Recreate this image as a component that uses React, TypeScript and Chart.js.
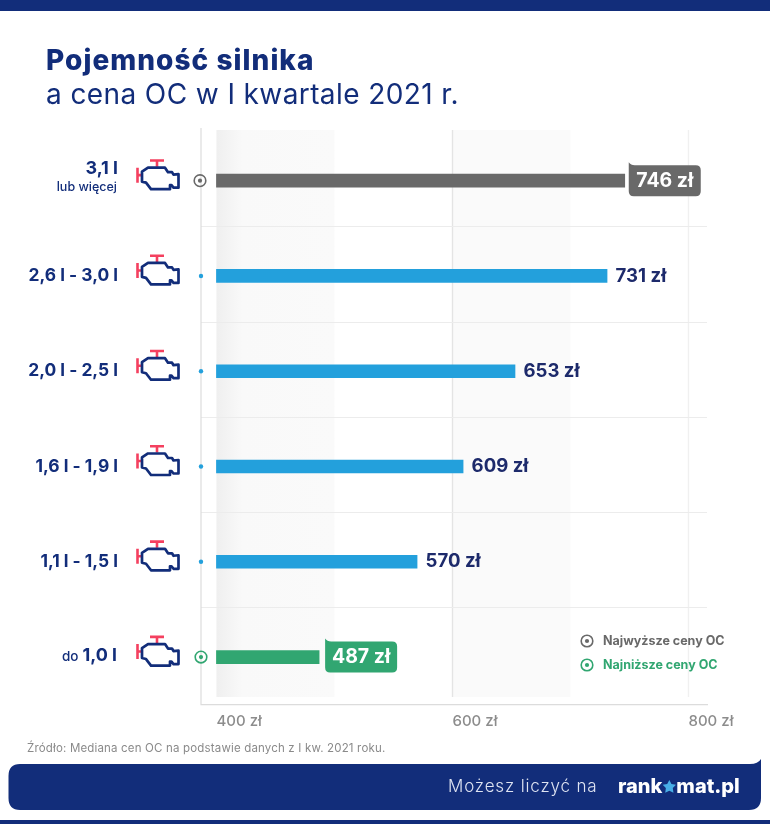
import React, { useEffect, useRef } from "react";
import { Chart, registerables } from "chart.js";

Chart.register(...registerables);

const categories = ["3,1 l lub więcej", "2,6 l - 3,0 l", "2,0 l - 2,5 l", "1,6 l - 1,9 l", "1,1 l - 1,5 l", "do 1,0 l"];
const prices = [746, 731, 653, 609, 570, 487];
const tickValues = [400, 600, 800];
const NAVY = "#122d7a";
const GRAY = "#696969";
const BLUE = "#23a0dc";
const GREEN = "#31a671";
const INK = "#1d2a6b";
const barColors = [GRAY, BLUE, BLUE, BLUE, BLUE, GREEN];
const FONT = "Inter, sans-serif";

function engine(c: CanvasRenderingContext2D, cy: number) {
  const o = cy - 181;
  c.save();
  c.translate(0, o);
  c.lineJoin = "round";
  c.strokeStyle = "#f4405f";
  c.lineWidth = 2.6;
  c.beginPath();
  c.moveTo(150, 160.8); c.lineTo(164, 160.8);
  c.moveTo(157, 161); c.lineTo(157, 167);
  c.moveTo(137.5, 168); c.lineTo(137.5, 183);
  c.moveTo(137.5, 175.5); c.lineTo(141, 175.5);
  c.stroke();
  c.strokeStyle = NAVY;
  c.lineWidth = 2.7;
  c.beginPath();
  c.moveTo(148, 168); c.lineTo(165, 168); c.lineTo(168, 172.5); c.lineTo(172, 172.5);
  c.lineTo(173.5, 175); c.lineTo(178.5, 174.5); c.lineTo(178.5, 188); c.lineTo(173.5, 188);
  c.lineTo(171.5, 185.5); c.lineTo(170, 185.5); c.lineTo(170, 189.5); c.lineTo(151, 189.5);
  c.lineTo(146, 183); c.lineTo(142, 182); c.lineTo(142, 172); c.closePath();
  c.stroke();
  c.restore();
}

function target(c: CanvasRenderingContext2D, x: number, y: number, col: string) {
  c.strokeStyle = col;
  c.fillStyle = col;
  c.lineWidth = 1.6;
  c.beginPath(); c.arc(x, y, 5.8, 0, Math.PI * 2); c.stroke();
  c.beginPath(); c.arc(x, y, 2.1, 0, Math.PI * 2); c.fill();
}

function callout(c: CanvasRenderingContext2D, x: number, cy: number, w: number, col: string) {
  const t = cy - 15.5, b = cy + 15.5, r = 5;
  c.fillStyle = col;
  c.beginPath();
  c.moveTo(x, t - 3);
  c.quadraticCurveTo(x + 2, t, x + 6, t);
  c.lineTo(x + w - r, t);
  c.quadraticCurveTo(x + w, t, x + w, t + r);
  c.lineTo(x + w, b - r);
  c.quadraticCurveTo(x + w, b, x + w - r, b);
  c.lineTo(x + r, b);
  c.quadraticCurveTo(x, b, x, b - r);
  c.closePath();
  c.fill();
}

function star(c: CanvasRenderingContext2D, x: number, y: number, R: number) {
  c.beginPath();
  for (let i = 0; i < 10; i++) {
    const r = i % 2 ? R * 0.52 : R;
    const a = -Math.PI / 2 + (i * Math.PI) / 5;
    c.lineTo(x + r * Math.cos(a), y + r * Math.sin(a));
  }
  c.closePath();
  c.fill();
}

const under = {
  id: "under",
  beforeDatasetsDraw(chart: any) {
    const c = chart.ctx as CanvasRenderingContext2D;
    const xs = chart.scales.x;
    const top = 130, bot = 697;
    const l1 = xs.getPixelForValue(400), r1 = xs.getPixelForValue(500);
    const g = c.createLinearGradient(l1, 0, r1, 0);
    g.addColorStop(0, "#efefef");
    g.addColorStop(0.22, "#f9f9f9");
    g.addColorStop(1, "#fafafa");
    c.fillStyle = g;
    c.fillRect(l1, top, r1 - l1, bot - top);
    const l2 = xs.getPixelForValue(600), r2 = xs.getPixelForValue(700);
    c.fillStyle = "#fafafa";
    c.fillRect(l2, top, r2 - l2, bot - top);
    c.strokeStyle = "#e4e4e4";
    c.lineWidth = 1.4;
    c.beginPath();
    c.moveTo(Math.round(l2) + 0.5, top); c.lineTo(Math.round(l2) + 0.5, bot);
    c.stroke();
    c.strokeStyle = "#f0f0f0";
    const p8 = xs.getPixelForValue(800);
    c.beginPath();
    c.moveTo(p8, top); c.lineTo(p8, bot);
    c.stroke();
    c.strokeStyle = "#ececec";
    c.lineWidth = 1;
    const ys = chart.scales.y;
    for (let i = 0; i < categories.length - 1; i++) {
      const y = Math.round((ys.getPixelForValue(i) + ys.getPixelForValue(i + 1)) / 2) - 1.5;
      c.beginPath();
      c.moveTo(chart.chartArea.left, y); c.lineTo(chart.chartArea.right, y);
      c.stroke();
    }
    c.strokeStyle = "#dcdcdc";
    c.lineWidth = 1.2;
    c.beginPath();
    c.moveTo(chart.chartArea.left, 128); c.lineTo(chart.chartArea.left, chart.chartArea.bottom);
    c.lineTo(chart.chartArea.right + 1, chart.chartArea.bottom);
    c.stroke();
  },
};

const over = {
  id: "over",
  afterDatasetsDraw(chart: any) {
    const c = chart.ctx as CanvasRenderingContext2D & { letterSpacing: string };
    const meta = chart.getDatasetMeta(0);
    const axisX = chart.chartArea.left;
    c.textBaseline = "middle";
    prices.forEach((v, i) => {
      const el = meta.data[i];
      const y = el.y;
      const right = 118;
      c.textAlign = "right";
      c.fillStyle = NAVY;
      if (i === 0) {
        c.font = `700 18px ${FONT}`;
        c.fillText("3,1 l", right, y - 12.5);
        c.font = `500 12.5px ${FONT}`;
        c.fillText("lub więcej", right - 1, y + 6.5);
      } else if (i === prices.length - 1) {
        c.font = `700 18px ${FONT}`;
        c.fillText("1,0 l", right - 1, y - 1);
        const w = c.measureText("1,0 l").width;
        c.font = `500 13.5px ${FONT}`;
        c.fillText("do", right - w - 5, y);
      } else {
        c.font = `700 17.4px ${FONT}`;
        c.fillText(categories[i], right, y);
      }
      engine(c, y);
      if (i === 0) target(c, axisX - 1, y, GRAY);
      else if (i === prices.length - 1) target(c, axisX, y, GREEN);
      else {
        c.fillStyle = BLUE;
        c.beginPath(); c.arc(axisX, y, 2.2, 0, Math.PI * 2); c.fill();
      }
      const label = `${v} zł`;
      c.textAlign = "left";
      if (i === 0 || i === prices.length - 1) {
        const x = el.x + (i === 0 ? 4 : 6);
        callout(c, x, y, 72, barColors[i]);
        c.fillStyle = "#ffffff";
        c.font = `700 19.5px ${FONT}`;
        c.textAlign = "center";
        c.fillText(label, x + 36, y);
      } else {
        c.fillStyle = INK;
        c.font = `700 18.6px ${FONT}`;
        c.fillText(label, el.x + 8.5, y);
      }
    });
    target(c, 587, 641, GRAY);
    target(c, 587, 665, GREEN);
    c.textAlign = "left";
    c.font = `700 12.5px ${FONT}`;
    c.fillStyle = GRAY;
    c.fillText("Najwyższe ceny OC", 603, 641);
    c.fillStyle = GREEN;
    c.fillText("Najniższe ceny OC", 603, 665);
    c.fillStyle = NAVY;
    c.letterSpacing = "1.05px";
    c.font = `800 28px ${FONT}`;
    c.fillText("Pojemność silnika", 46, 62);
    c.letterSpacing = "0.4px";
    c.font = `400 28px ${FONT}`;
    c.fillText("a cena OC w I kwartale 2021 r.", 46, 96);
    c.fillStyle = "#8a8a8a";
    c.letterSpacing = "0.17px";
    c.font = `400 11.5px ${FONT}`;
    c.fillText("Źródło: Mediana cen OC na podstawie danych z I kw. 2021 roku.", 27, 748.5);
    c.letterSpacing = "0px";
    c.fillStyle = NAVY;
    c.fillRect(0, 0, 770, 11);
    c.fillRect(0, 820, 770, 4);
    c.beginPath();
    c.moveTo(20, 764);
    c.lineTo(750, 764);
    c.quadraticCurveTo(758, 764, 761, 759);
    c.lineTo(761, 798);
    c.quadraticCurveTo(761, 810, 749, 810);
    c.lineTo(20, 810);
    c.quadraticCurveTo(8.5, 810, 8.5, 798);
    c.lineTo(8.5, 776);
    c.quadraticCurveTo(8.5, 764, 20, 764);
    c.closePath();
    c.fill();
    c.fillStyle = "#dfe4f2";
    c.letterSpacing = "0.85px";
    c.font = `300 17px ${FONT}`;
    c.fillText("Możesz liczyć na", 448, 787);
    c.letterSpacing = "0px";
    c.fillStyle = "#ffffff";
    c.font = `800 20px ${FONT}`;
    c.fillText("rank", 618, 787);
    const w = c.measureText("rank").width;
    c.fillStyle = "#48aee6";
    star(c, 618 + w + 7, 787, 7);
    c.fillStyle = "#ffffff";
    c.fillText("mat.pl", 618 + w + 14, 787);
  },
};

export default function App() {
  const ref = useRef<HTMLCanvasElement>(null);
  useEffect(() => {
    document.body.style.margin = "0";
    const chart = new Chart(ref.current!, {
      type: "bar",
      data: {
        labels: categories,
        datasets: [{ data: prices, backgroundColor: barColors, base: 400, barThickness: 13, borderWidth: 0 }],
      },
      plugins: [under, over],
      options: {
        indexAxis: "y",
        responsive: false,
        animation: false,
        layout: { padding: { left: 201, top: 133, right: 63, bottom: 0 } },
        plugins: { legend: { display: false }, tooltip: { enabled: false }, title: { display: false } },
        scales: {
          x: {
            type: "linear",
            min: 386.9,
            max: 815.7,
            grid: { display: false },
            border: { display: false },
            afterFit: (s: any) => { s.height = 119.3; },
            afterBuildTicks: (s: any) => { s.ticks = tickValues.map((value) => ({ value })); },
            ticks: {
              align: "start",
              maxRotation: 0,
              padding: 0,
              color: "#8c8c8c",
              font: { family: "Inter, sans-serif", size: 15, weight: "500" },
              callback: (v: any) => `${v} zł`,
            },
          },
          y: {
            type: "category",
            grid: { display: false },
            border: { display: false },
            ticks: { display: false },
            afterFit: (s: any) => { s.width = 0; },
          },
        },
      },
    } as any);
    return () => chart.destroy();
  }, []);
  return (
    <canvas ref={ref} width={770} height={824} style={{ display: "block", width: 770, height: 824, background: "#ffffff" }} />
  );
}
